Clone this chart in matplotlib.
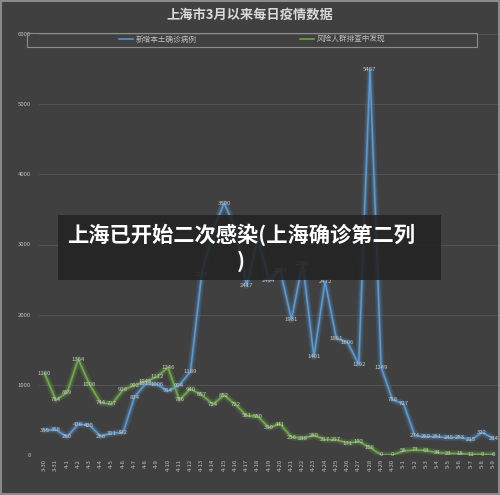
import matplotlib
matplotlib.use("Agg")
import matplotlib.pyplot as plt
from matplotlib.patches import Rectangle
from matplotlib.lines import Line2D

plt.rcParams['font.family'] = ['Noto Sans CJK SC', 'DejaVu Sans']

dates = ["3-30", "3-31"] + [f"4-{i}" for i in range(1, 31)] + [f"5-{i}" for i in range(1, 10)]
confirmed = [355, 358, 260, 438, 425, 268, 311, 322, 824, 1015, 1006, 914, 994, 1189,
             2573, 3200, 3590, 3238, 2417, 3084, 2494, 2634, 1931, 2736, 1401, 2472,
             1661, 1606, 1292, 5487, 1249, 788, 727, 274, 260, 261, 245, 253, 215, 322, 234]
screening = [1160, 784, 889, 1364, 1008, 744, 727, 928, 992, 1045, 1112, 1246, 786, 940,
             857, 724, 852, 722, 561, 550, 390, 441, 256, 238, 280, 217, 217, 171, 192,
             108, 0, 0, 58, 73, 63, 34, 23, 18, 11, 9, 6]
series_names = ["新增本土确诊病例", "风险人群排查中发现"]
colors = ["#5b9bd5", "#70ad47"]
title = "上海市3月以来每日疫情数据"
banner = "上海已开始二次感染(上海确诊第二列\n)"

BG = "#404040"
fig = plt.figure(figsize=(5.0, 4.95), dpi=100, facecolor=BG)
ax = fig.add_axes([39/500, 1-455/495, 460/500, 421/495], facecolor=BG)

x = list(range(len(dates)))
for vals, c in zip([confirmed, screening], colors):
    ax.plot(x, vals, color=c, lw=5, alpha=0.18, solid_capstyle='round', zorder=2)
    ax.plot(x, vals, color=c, lw=2.6, alpha=0.28, solid_capstyle='round', zorder=2)
    ax.plot(x, vals, color=c, lw=1.1, zorder=3)
    for xi, v in zip(x, vals):
        ax.text(xi, v, str(v), ha='center', va='center', fontsize=4.3,
                color='#c8c8c8', zorder=4)

ax.set_xlim(-0.5, len(dates) - 0.5)
ax.set_ylim(0, 6000)
ax.set_yticks(range(0, 6001, 1000))
ax.set_xticks(x)
ax.set_xticklabels(dates, rotation=90, fontsize=4.3, color='#bfbfbf')
ax.tick_params(axis='y', labelsize=4.3, labelcolor='#bfbfbf', length=0, pad=6)
ax.tick_params(axis='x', length=0, pad=3)
ax.grid(axis='y', color='#525252', lw=0.8)
ax.set_axisbelow(True)
for s in ax.spines.values():
    s.set_visible(False)

fig.text(0.5, 1-15/495, title, ha='center', va='center', fontsize=9.5,
         color='#d9d9d9', fontweight='bold')

# legend
fig.patches.append(Rectangle((27/500, 1-47/495), 450/500, 14/495, transform=fig.transFigure,
                             fill=False, edgecolor='#8c8c8c', lw=0.8, zorder=5))
handles = [Line2D([0], [0], color=c, lw=1.1) for c in colors]
fig.legend(handles, series_names, loc='center', bbox_to_anchor=(252/500, 1-40/495),
           ncol=2, frameon=False, fontsize=5.5, labelcolor='#bfbfbf',
           handlelength=1.8, handletextpad=0.4, columnspacing=13.5)

# banner
fig.patches.append(Rectangle((58/500, 1-280/495), 383/500, 65/495, transform=fig.transFigure,
                             facecolor='#232323', alpha=0.88, edgecolor='none', zorder=6))
fig.text(241/500, 1-248/495, banner, ha='center', va='center', fontsize=15.3,
         color='white', fontweight='bold', linespacing=1.25, zorder=7)

# outer border
fig.patches.append(Rectangle((0.001, 0.002), 0.996, 0.996, transform=fig.transFigure,
                             fill=False, edgecolor='#9a9a9a', lw=1.2, zorder=8))

fig.savefig("out.png", dpi=100, facecolor=BG)
